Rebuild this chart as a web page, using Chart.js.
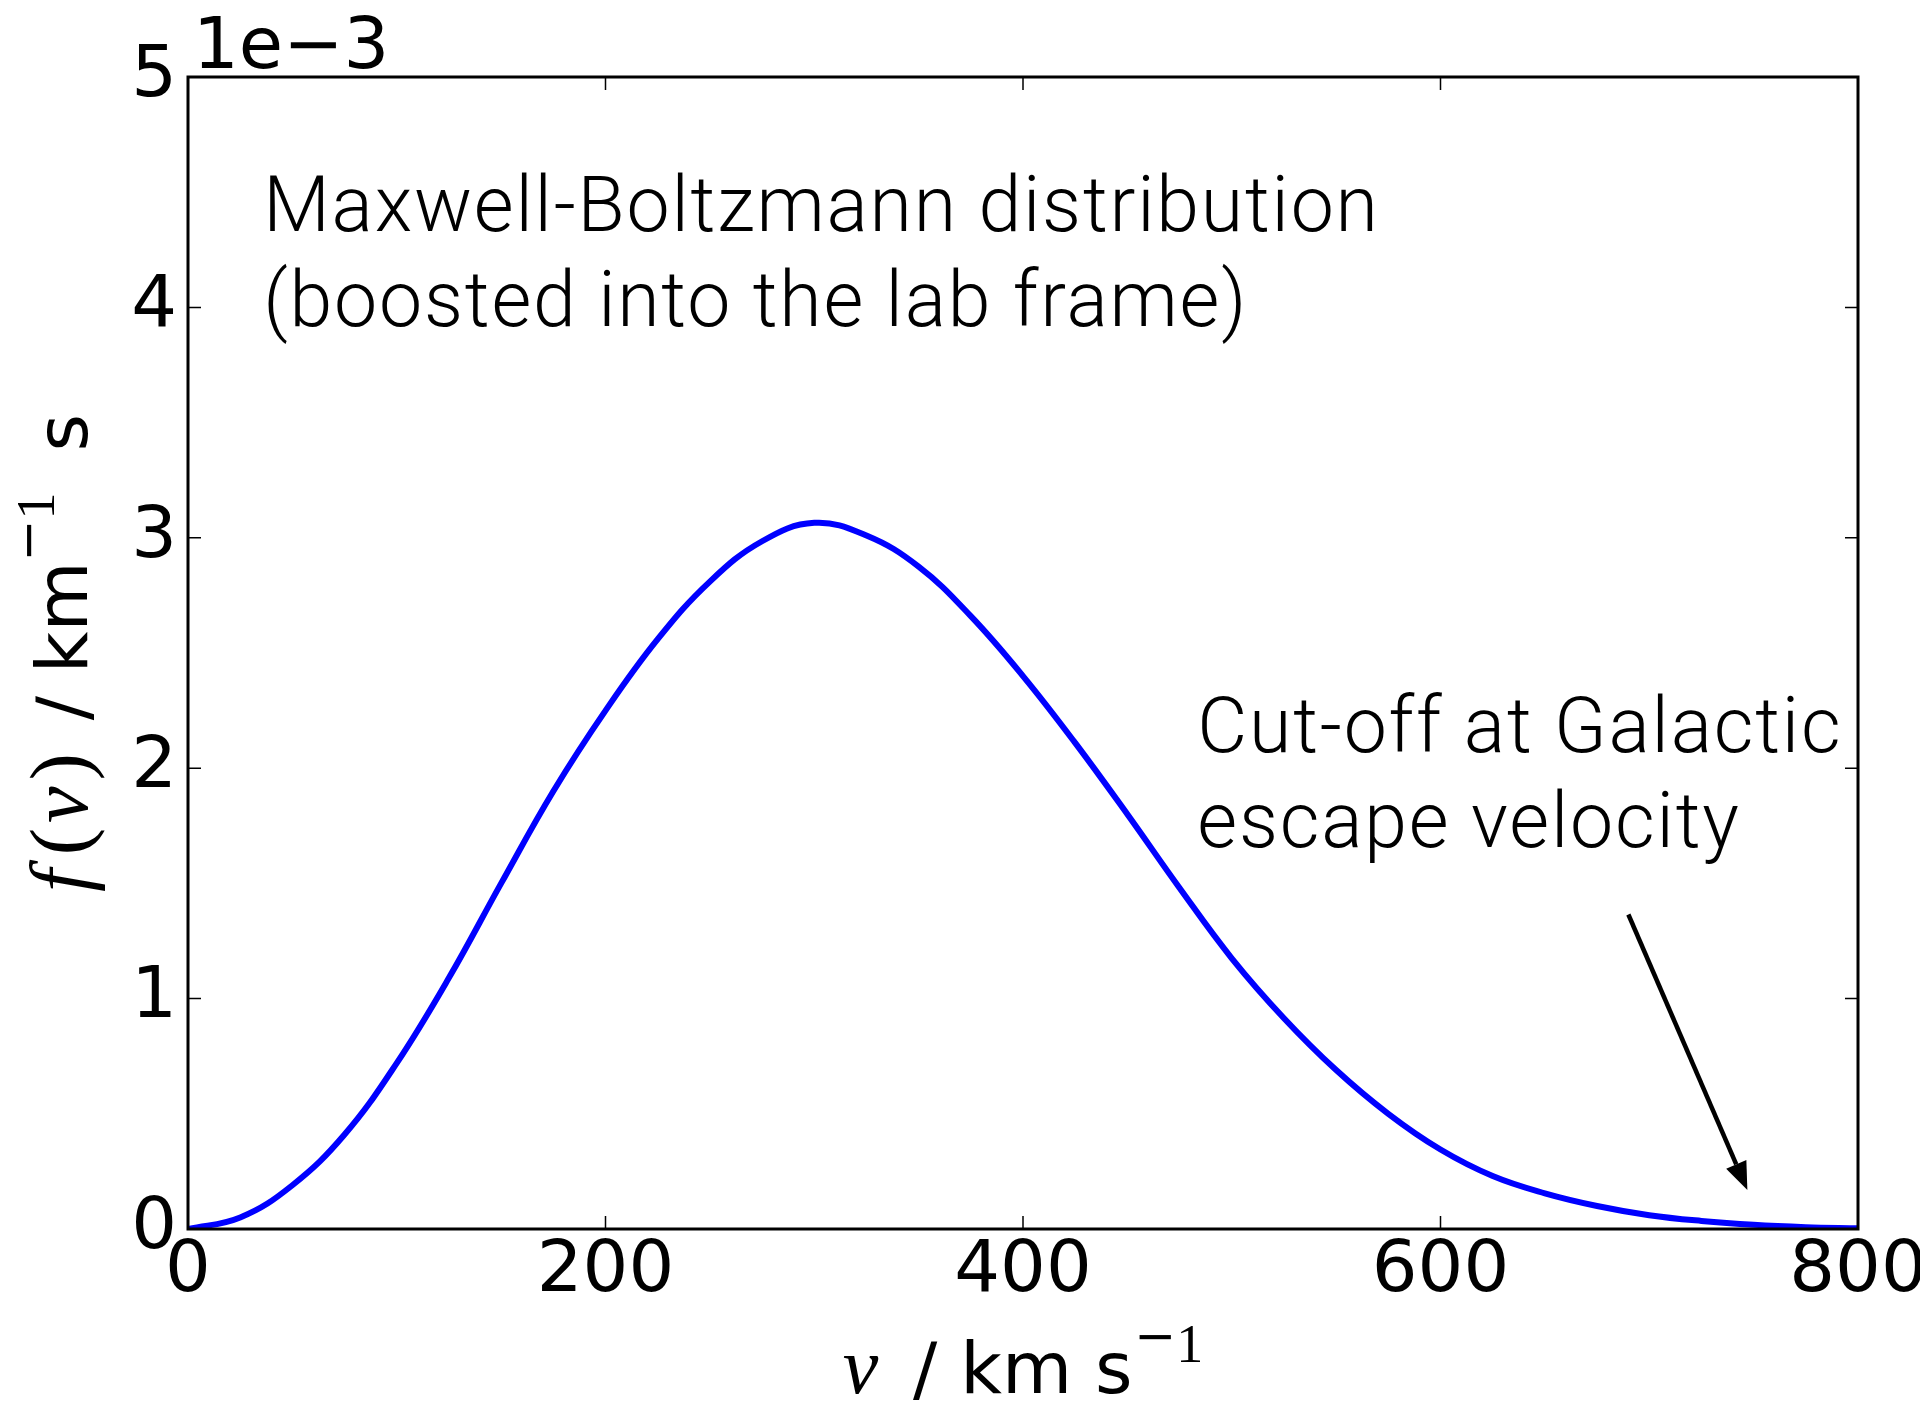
<!DOCTYPE html>
<html>
<head>
<meta charset="utf-8">
<script src="https://cdn.jsdelivr.net/npm/chart.js@4.4.1/dist/chart.umd.min.js"></script>
<style>
  html, body { margin: 0; padding: 0; background: #fff; }
  #wrap { width: 1920px; height: 1412px; }
</style>
</head>
<body>
<div id="wrap"><canvas id="speedChart" width="1920" height="1412"></canvas></div>
<script>
// speed v in km/s, f(v) in units of 1e-3 (km/s)^-1
const speeds = [0, 25, 50, 75, 100, 125, 150, 175, 200, 225, 250, 275, 300, 325, 350, 375, 400,
                425, 450, 475, 500, 525, 550, 575, 600, 625, 650, 675, 700, 725, 750, 775, 800];
const fValues = [0.00, 0.05, 0.19, 0.41, 0.72, 1.09, 1.50, 1.90, 2.25, 2.56, 2.81, 2.985, 3.065, 3.01, 2.875, 2.66, 2.40,
                 2.11, 1.80, 1.48, 1.175, 0.915, 0.69, 0.50, 0.345, 0.23, 0.155, 0.10, 0.06, 0.035, 0.018, 0.008, 0.003];
const xTicks = [0, 200, 400, 600, 800];
const yTicks = [0, 1, 2, 3, 4, 5];
const yOffsetLabel = '1e\u22123';

const mbLines = ['Maxwell-Boltzmann distribution', '(boosted into the lab frame)'];
const cutoffLines = ['Cut-off at Galactic', 'escape velocity'];

// annotation anchors in data units (left edge, first baseline)
const mbAnchor = { x: 36, y: 4.33 };
const cutoffAnchor = { x: 483.5, y: 2.07 };
const arrowFrom = { x: 690, y: 1.365 };
const arrowTo = { x: 747, y: 0.169 };

const SANS = '"DejaVu Sans"';
const SERIF = '"Liberation Serif"';
const LIGHT = '300 77px Roboto, "Roboto Light", Lato, sans-serif';

function drawRuns(ctx, runs, cx, baseline) {
  let total = 0;
  runs.forEach(r => { ctx.font = r.font; r.w = ctx.measureText(r.text).width; total += r.w + (r.gap || 0); });
  let x = cx - total / 2;
  ctx.textBaseline = 'alphabetic';
  ctx.textAlign = 'left';
  runs.forEach(r => {
    x += r.gap || 0;
    ctx.font = r.font;
    ctx.fillText(r.text, x, baseline - (r.rise || 0));
    x += r.w;
  });
}

const decorations = {
  id: 'decorations',
  afterDatasetsDraw(chart) {
    const { ctx, chartArea: a, scales: { x, y } } = chart;
    ctx.save();
    ctx.fillStyle = '#000';
    ctx.strokeStyle = '#000';

    // frame
    ctx.lineWidth = 3;
    ctx.strokeRect(a.left, a.top, a.right - a.left, a.bottom - a.top);

    // inward ticks on all four sides
    const tl = 13;
    ctx.lineWidth = 1.5;
    ctx.beginPath();
    xTicks.forEach(v => {
      const px = x.getPixelForValue(v);
      ctx.moveTo(px, a.bottom); ctx.lineTo(px, a.bottom - tl);
      ctx.moveTo(px, a.top); ctx.lineTo(px, a.top + tl);
    });
    yTicks.forEach(v => {
      const py = y.getPixelForValue(v);
      ctx.moveTo(a.left, py); ctx.lineTo(a.left + tl, py);
      ctx.moveTo(a.right, py); ctx.lineTo(a.right - tl, py);
    });
    ctx.stroke();

    // exponent of the y axis
    ctx.font = '72px ' + SANS;
    ctx.textBaseline = 'alphabetic';
    ctx.textAlign = 'left';
    ctx.fillText(yOffsetLabel, a.left + 5, a.top - 9);

    // x axis title: v / km s^-1
    drawRuns(ctx, [
      { text: 'v', font: 'italic 80px ' + SERIF },
      { text: ' / km s', font: '72px ' + SANS, gap: 12 },
      { text: '\u2212', font: '50px ' + SANS, rise: 40, gap: 2 },
      { text: '1', font: '54px ' + SERIF, rise: 31 }
    ], (a.left + a.right) / 2, 1393);

    // y axis title: f(v) / km^-1 s
    ctx.save();
    ctx.translate(87, (a.top + a.bottom) / 2);
    ctx.rotate(-Math.PI / 2);
    drawRuns(ctx, [
      { text: 'f', font: 'italic 82px ' + SERIF },
      { text: '(', font: '82px ' + SERIF, gap: 14 },
      { text: 'v', font: 'italic 82px ' + SERIF, gap: 5 },
      { text: ')', font: '82px ' + SERIF, gap: 6 },
      { text: ' / km', font: '72px ' + SANS, gap: 10 },
      { text: '\u2212', font: '50px ' + SANS, rise: 42, gap: 0 },
      { text: '1', font: '54px ' + SERIF, rise: 33 },
      { text: ' s', font: '72px ' + SANS, gap: 18 }
    ], 0, 0);
    ctx.restore();

    // text annotations
    ctx.font = LIGHT;
    ctx.letterSpacing = '1.8px';
    ctx.textAlign = 'left';
    ctx.textBaseline = 'alphabetic';
    const lineGap = 95;
    mbLines.forEach((t, i) => ctx.fillText(t, x.getPixelForValue(mbAnchor.x), y.getPixelForValue(mbAnchor.y) + i * lineGap));
    cutoffLines.forEach((t, i) => ctx.fillText(t, x.getPixelForValue(cutoffAnchor.x), y.getPixelForValue(cutoffAnchor.y) + i * lineGap));
    ctx.letterSpacing = '0px';

    // arrow pointing at the tail of the distribution
    const x0 = x.getPixelForValue(arrowFrom.x), y0 = y.getPixelForValue(arrowFrom.y);
    const x1 = x.getPixelForValue(arrowTo.x), y1 = y.getPixelForValue(arrowTo.y);
    const len = Math.hypot(x1 - x0, y1 - y0);
    const ux = (x1 - x0) / len, uy = (y1 - y0) / len;
    const headLen = 28, headHalf = 11;
    const bx = x1 - ux * headLen, by = y1 - uy * headLen;
    ctx.lineWidth = 4.5;
    ctx.beginPath();
    ctx.moveTo(x0, y0);
    ctx.lineTo(bx, by);
    ctx.stroke();
    ctx.beginPath();
    ctx.moveTo(x1, y1);
    ctx.lineTo(bx - uy * headHalf, by + ux * headHalf);
    ctx.lineTo(bx + uy * headHalf, by - ux * headHalf);
    ctx.closePath();
    ctx.fill();

    ctx.restore();
  }
};

function makeChart() {
  const ctx = document.getElementById('speedChart');
  new Chart(ctx, {
    type: 'line',
    data: {
      datasets: [{
        data: speeds.map((v, i) => ({ x: v, y: fValues[i] })),
        borderColor: '#0000ff',
        borderWidth: 6,
        pointRadius: 0,
        tension: 0.4,
        fill: false
      }]
    },
    options: {
      responsive: false,
      animation: false,
      layout: { padding: { top: 77, right: 62, left: 0, bottom: 0 } },
      plugins: { legend: { display: false }, tooltip: { enabled: false } },
      scales: {
        x: {
          type: 'linear', min: 0, max: 800,
          afterBuildTicks: s => { s.ticks = xTicks.map(v => ({ value: v })); },
          grid: { display: false, drawTicks: false },
          border: { display: false },
          ticks: { color: '#000', font: { family: 'DejaVu Sans', size: 72 }, padding: 0, maxRotation: 0, autoSkip: false },
          afterFit: s => { s.height = 1412 - 1229; s.paddingLeft = 0; s.paddingRight = 0; }
        },
        y: {
          type: 'linear', min: 0, max: 5,
          afterBuildTicks: s => { s.ticks = yTicks.map(v => ({ value: v })); },
          grid: { display: false, drawTicks: false },
          border: { display: false },
          ticks: { color: '#000', font: { family: 'DejaVu Sans', size: 72 }, padding: 11, autoSkip: false },
          afterFit: s => { s.width = 188; s.paddingTop = 0; s.paddingBottom = 0; }
        }
      }
    },
    plugins: [decorations]
  });
}

Promise.all([
  document.fonts.load('72px "DejaVu Sans"'),
  document.fonts.load('italic 80px "Liberation Serif"'),
  document.fonts.load('80px "Liberation Serif"'),
  document.fonts.load(LIGHT, 'M')
]).catch(() => {}).then(makeChart);
</script>
</body>
</html>
